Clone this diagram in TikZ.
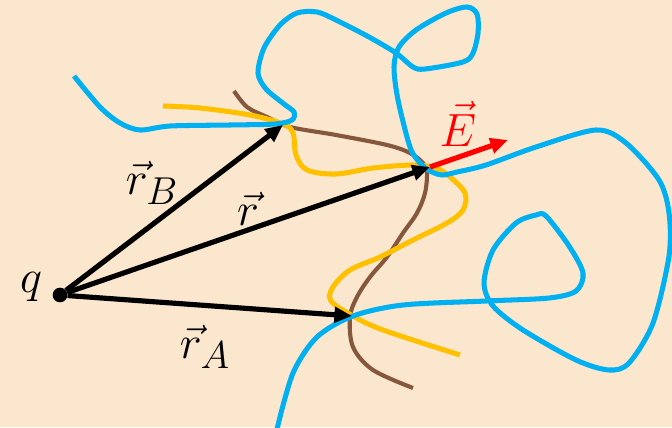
\documentclass[tikz,border=0pt]{standalone}
\usetikzlibrary{arrows.meta}

\definecolor{bgpeach}{RGB}{251,231,206}
\definecolor{skyblue}{RGB}{0,176,240}
\definecolor{goldline}{RGB}{255,192,0}
\definecolor{brownline}{RGB}{133,87,61}

\begin{document}
\begin{tikzpicture}[scale=3.0, >={Triangle[length=15pt,width=13pt]},
	vec/.style={->, line width=4.4pt},
	curve/.style={line width=4.3pt},
	lbl/.style={font=\fontsize{24.88}{30}\selectfont, scale=1.6}]
		
		% Background
		\fill[bgpeach] (0,0) rectangle (6.72,4.27);
		\useasboundingbox (0,0) rectangle (6.72,4.27);
		
		% Brown surface
		\draw[curve, brownline, line width=3.5pt] plot[smooth, tension=0.55] coordinates {
			(2.34,3.36) (2.47,3.20) (2.67,3.10) (2.90,3.00) (3.36,2.92) (3.87,2.82)
			(4.10,2.74) (4.23,2.64) (4.27,2.55) (4.25,2.34) (4.17,2.14) (4.03,1.94)
			(3.87,1.70) (3.70,1.50) (3.57,1.30) (3.50,1.10) (3.53,0.80) (3.73,0.57)
			(4.13,0.39)};
		
		% Yellow surface
		\draw[curve, goldline] plot[smooth, tension=0.55] coordinates {
			(1.63,3.21) (2.00,3.19) (2.50,3.12) (2.83,3.03) (2.93,2.94) (2.96,2.72)
			(3.07,2.57) (3.36,2.53) (3.73,2.59) (4.13,2.62) (4.36,2.59) (4.50,2.50)
			(4.65,2.34) (4.63,2.17) (4.47,2.04) (4.13,1.87) (3.80,1.70) (3.50,1.57)
			(3.33,1.40) (3.31,1.26) (3.53,1.11) (3.83,0.97) (4.60,0.72)};
		
		% Blue surface
		\draw[curve, skyblue] plot[smooth, tension=0.5] coordinates {
			(0.74,3.51) (1.00,3.20) (1.20,3.04) (1.40,2.97) (1.70,3.01) (2.30,3.02)
			(2.75,3.03) (2.92,3.07) (2.94,3.15) (2.84,3.23) (2.66,3.38) (2.58,3.54)
			(2.64,3.79) (2.80,4.02) (2.97,4.14) (3.17,4.15) (3.36,4.07) (3.69,3.90)
			(3.96,3.74) (4.13,3.60) (4.25,3.58) (4.63,3.65) (4.73,3.74) (4.78,3.94)
			(4.77,4.13) (4.67,4.20) (4.46,4.14) (4.16,3.97) (3.99,3.80) (3.94,3.60)
			(3.98,3.27) (4.10,2.80) (4.20,2.64) (4.30,2.56) (4.42,2.52) (4.57,2.55)
			(4.86,2.62) (5.36,2.80) (5.96,2.97) (6.26,2.84) (6.59,2.47) (6.69,2.14)
			(6.69,1.71) (6.53,1.04) (6.29,0.64) (6.09,0.57) (5.76,0.67) (5.23,0.97)
			(4.93,1.21) (4.84,1.44) (4.93,1.77) (5.16,2.04) (5.36,2.12) (5.46,2.11)
			(5.69,1.81) (5.83,1.54) (5.76,1.36) (5.49,1.29) (4.86,1.26) (4.03,1.22)
			(3.53,1.11) (3.17,0.90) (2.93,0.54) (2.77,-0.02)};
		
		% Points
		\node[circle, fill, inner sep=0pt, minimum size=12.5pt] (Q) at (0.60,1.32) {};
		\coordinate (A) at (3.52,1.11);
		\coordinate (B) at (2.83,3.02);
		\coordinate (P) at (4.30,2.60);
		\coordinate (Etip) at (5.08,2.87);
		
		% Vectors
		\draw[vec] (Q) -- (B);
		\draw[vec] (Q) -- (P);
		\draw[vec] (Q) -- (A);
		\draw[vec, red] (P) -- (Etip);
		
		% Labels
		\node[lbl] (qlabel) at (0.31,1.40) {$q$};
		\node[lbl] (rBlabel) at (1.52,2.44) {$\vec{r}_B$};
		\node[lbl] (rlabel) at (2.48,2.18) {$\vec{r}$};
		\node[lbl] (rAlabel) at (2.05,0.80) {$\vec{r}_A$};
		\node[lbl, red] (Elabel) at (4.58,3.03) {$\vec{E}$};
		
	\end{tikzpicture}
\end{document}
